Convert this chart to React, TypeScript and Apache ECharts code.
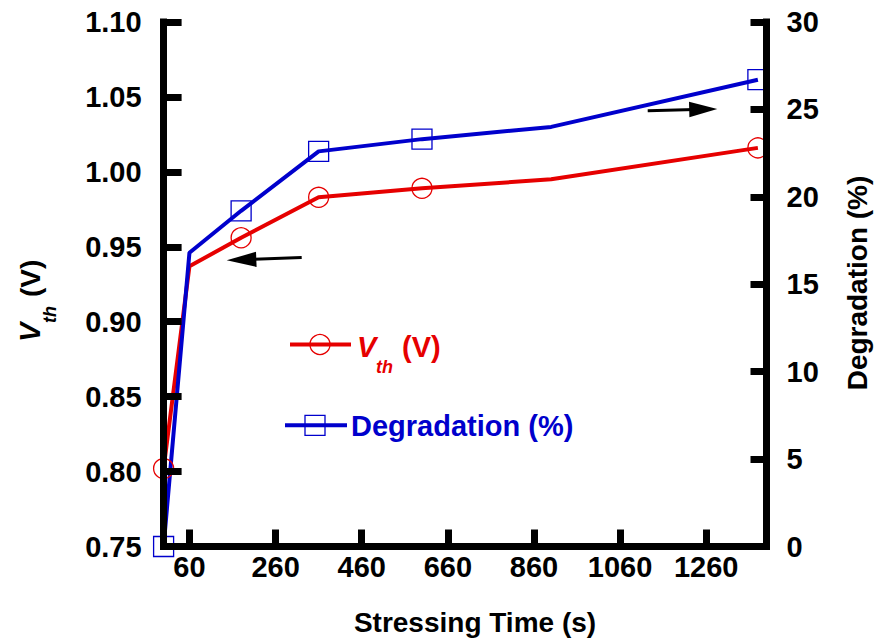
import React, { useEffect, useRef } from "react";
import * as echarts from "echarts";

// Stressing time (s) at each measurement
const time = [0, 60, 180, 360, 600, 900, 1380];
// Threshold voltage (V) at each time
const vth = [0.802, 0.937, 0.956, 0.983, 0.989, 0.995, 1.016];
// Vth degradation (%) at each time
const degradation = [0, 16.8, 19.2, 22.6, 23.3, 24.0, 26.7];
// Which measurements carry a marker
const marked = [true, false, true, true, true, false, true];
// Bottom axis tick values
const timeTicks = [60, 260, 460, 660, 860, 1060, 1260];

const FONT = '"Liberation Sans", Arial, Helvetica, sans-serif';
const RED = "#e60000";
const BLUE = "#0000cc";
const BLACK = "#000";

const axisLine = { show: true, onZero: false, lineStyle: { color: BLACK, width: 7, cap: "square" } };
const labelStyle = { fontSize: 29, fontWeight: "bold", fontFamily: FONT, color: BLACK };

function buildSeriesData(values: number[], symbol: string) {
  return time.map((t, i) => ({ value: [t, values[i]], symbol: marked[i] ? symbol : "none" }));
}

export default function App() {
  const ref = useRef<HTMLDivElement>(null);

  useEffect(() => {
    const chart = echarts.init(ref.current!, null, { renderer: "svg" });
    chart.setOption({
      animation: false,
      backgroundColor: "#fff",
      grid: { left: 163.6, top: 22, right: 109.5, bottom: 94.5, containLabel: false },
      xAxis: {
        type: "value",
        min: 0,
        max: 1400,
        interval: 200,
        z: 5,
        axisLine,
        axisTick: { show: true, inside: true, length: 17, customValues: timeTicks, lineStyle: { color: BLACK, width: 7 } },
        axisLabel: { ...labelStyle, margin: 6, customValues: timeTicks, formatter: (v: number) => String(v) },
        splitLine: { show: false },
      },
      yAxis: [
        {
          type: "value",
          position: "left",
          min: 0.75,
          max: 1.1,
          interval: 0.05,
          z: 5,
          axisLine,
          axisTick: { show: true, inside: true, length: 18, lineStyle: { color: BLACK, width: 7 } },
          axisLabel: { ...labelStyle, margin: 22, formatter: (v: number) => v.toFixed(2) },
          splitLine: { show: false },
        },
        {
          type: "value",
          position: "right",
          min: 0,
          max: 30,
          interval: 5,
          z: 5,
          axisLine,
          axisTick: { show: true, inside: true, length: 16, lineStyle: { color: BLACK, width: 7 } },
          axisLabel: { ...labelStyle, margin: 20 },
          splitLine: { show: false },
        },
      ],
      series: [
        {
          name: "Vth",
          type: "line",
          yAxisIndex: 0,
          clip: false,
          symbolSize: 20,
          lineStyle: { color: RED, width: 4 },
          itemStyle: { color: "transparent", borderColor: RED, borderWidth: 1.3 },
          data: buildSeriesData(vth, "circle"),
        },
        {
          name: "Degradation",
          type: "line",
          yAxisIndex: 1,
          clip: false,
          symbolSize: 20,
          lineStyle: { color: BLUE, width: 4 },
          itemStyle: { color: "transparent", borderColor: BLUE, borderWidth: 1.3 },
          data: buildSeriesData(degradation, "rect"),
        },
      ],
      graphic: [
        // axis titles
        {
          type: "text",
          x: 475,
          y: 622,
          style: { text: "Stressing Time (s)", font: `bold 28px ${FONT}`, fill: BLACK, align: "center", verticalAlign: "middle" },
        },
        {
          type: "text",
          x: 857,
          y: 283,
          rotation: Math.PI / 2,
          style: { text: "Degradation (%)", font: `bold 28px ${FONT}`, fill: BLACK, align: "center", verticalAlign: "middle" },
        },
        {
          type: "group",
          x: 30,
          y: 300,
          rotation: Math.PI / 2,
          children: [
            { type: "text", x: -42, y: 0, style: { text: "V", font: `italic bold 29px ${FONT}`, fill: BLACK, align: "left", verticalAlign: "middle" } },
            { type: "text", x: -23, y: 20, style: { text: "th", font: `italic bold 18px ${FONT}`, fill: BLACK, align: "left", verticalAlign: "middle" } },
            { type: "text", x: 3, y: 0, style: { text: "(V)", font: `bold 28px ${FONT}`, fill: BLACK, align: "left", verticalAlign: "middle" } },
          ],
        },
        // legend
        { type: "line", shape: { x1: 290, y1: 344.5, x2: 351, y2: 344.5 }, style: { stroke: RED, lineWidth: 4 } },
        { type: "circle", shape: { cx: 320, cy: 344.5, r: 10 }, style: { fill: "none", stroke: RED, lineWidth: 1.3 } },
        { type: "text", x: 357, y: 346.7, style: { text: "V", font: `italic bold 29px ${FONT}`, fill: RED, align: "left", verticalAlign: "middle" } },
        { type: "text", x: 376, y: 366.8, style: { text: "th", font: `italic bold 18px ${FONT}`, fill: RED, align: "left", verticalAlign: "middle" } },
        { type: "text", x: 402, y: 346.7, style: { text: "(V)", font: `bold 29px ${FONT}`, fill: RED, align: "left", verticalAlign: "middle" } },
        { type: "line", shape: { x1: 285, y1: 425.3, x2: 347, y2: 425.3 }, style: { stroke: BLUE, lineWidth: 4 } },
        { type: "rect", shape: { x: 305, y: 415.3, width: 20, height: 20 }, style: { fill: "none", stroke: BLUE, lineWidth: 1.3 } },
        { type: "text", x: 351, y: 426, style: { text: "Degradation (%)", font: `bold 29px ${FONT}`, fill: BLUE, align: "left", verticalAlign: "middle" } },
        // arrows pointing to each curve's axis
        { type: "line", shape: { x1: 301.7, y1: 257.5, x2: 250, y2: 259.5 }, style: { stroke: BLACK, lineWidth: 3 } },
        { type: "polygon", shape: { points: [[226.7, 260.3], [256, 251.8], [256.6, 267]] }, style: { fill: BLACK } },
        { type: "line", shape: { x1: 647.7, y1: 110.7, x2: 695, y2: 109.6 }, style: { stroke: BLACK, lineWidth: 3 } },
        { type: "polygon", shape: { points: [[717.3, 109], [689, 101.7], [689.4, 117.3]] }, style: { fill: BLACK } },
      ],
    });
    return () => chart.dispose();
  }, []);

  return (
    <div
      ref={ref}
      style={{ position: "fixed", left: 0, top: 0, width: 876, height: 641, background: "#fff" }}
    />
  );
}
